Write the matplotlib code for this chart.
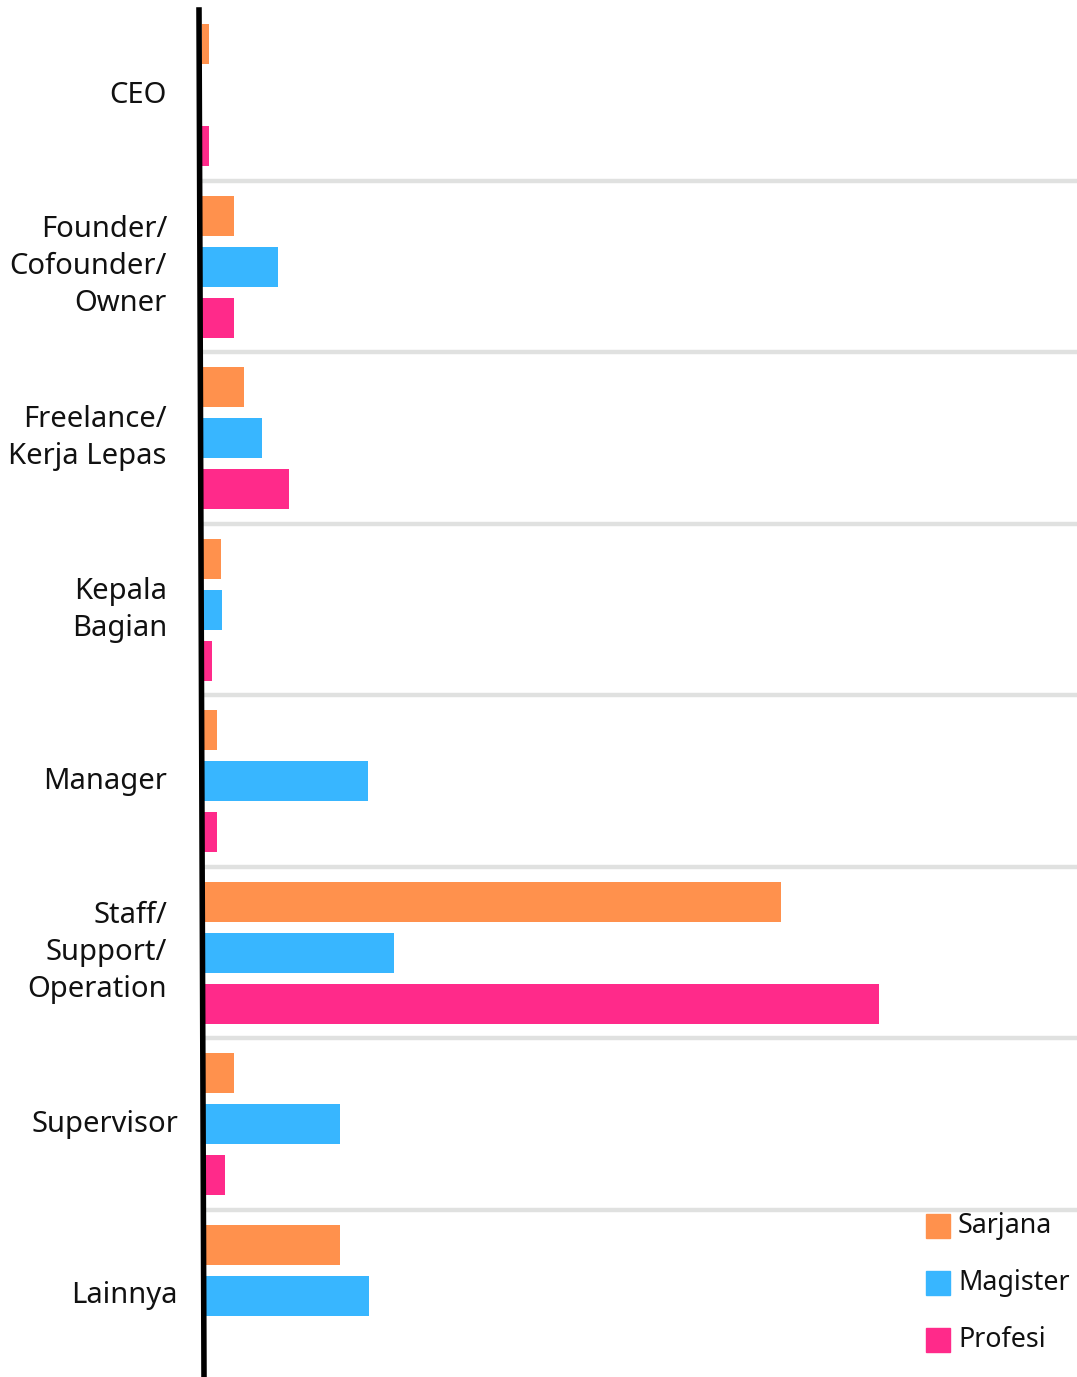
import matplotlib.pyplot as plt
import matplotlib.transforms as mtransforms
from matplotlib.patches import Rectangle
from matplotlib.lines import Line2D
import numpy as np

plt.rcParams['font.family'] = ['Noto Sans', 'DejaVu Sans']

# jabatan responden per jenjang pendidikan
categories = ["CEO", "Founder/\nCofounder/\nOwner", "Freelance/\nKerja Lepas",
              "Kepala\nBagian", "Manager", "Staff/\nSupport/\nOperation",
              "Supervisor", "Lainnya"]
series = ["Sarjana", "Magister", "Profesi"]
sarjana = [1.0, 4.7, 6.2, 2.8, 2.2, 85.5, 4.7, 20.4]
magister = [0.0, 11.2, 8.9, 3.0, 24.5, 28.4, 20.4, 24.7]
profesi = [1.0, 4.7, 12.9, 1.5, 2.2, 100.0, 3.4, 0.0]
colors = ["#FF914D", "#38B6FF", "#FF2A8A"]

W, H = 1077, 1377
fig = plt.figure(figsize=(W / 100, H / 100), dpi=100)
ax = fig.add_axes([202 / W, 0, 1 - 202 / W, 1])

y = np.arange(len(categories))
offset = 0.297
bar_h = 0.233
for k, (vals, col) in enumerate(zip([sarjana, magister, profesi], colors)):
    ax.barh(y + (k - 1) * offset, vals, height=bar_h, color=col, zorder=2)

# garis pemisah antar kelompok
for sep in y[:-1] + 0.5:
    ax.axhline(sep, color="#e0e1e0", lw=3.2, zorder=1)

ax.set_xlim(0, 129.2)
ax.set_ylim(7.474, -0.555)
ax.axis("off")

# label kategori di sisi kiri
label_x = [167, 167, 167, 167, 167, 167, 178, 178]
trans = mtransforms.blended_transform_factory(fig.transFigure, ax.transData)
for yi, lab, lx in zip(y, categories, label_x):
    ax.text(lx / W, yi, lab, transform=trans, ha="right", va="center",
            fontsize=21, color="#111111", linespacing=1.36)

# sumbu vertikal hitam
fig.add_artist(Line2D([199 / W, 204 / W], [1 - 10 / H, 0], color="black",
                      lw=4, transform=fig.transFigure, zorder=5))

# legenda
for k, (name, col) in enumerate(zip(series, colors)):
    yc = 1226 + 57 * k
    fig.add_artist(Rectangle((926 / W, 1 - (yc + 12) / H), 24 / W, 24 / H,
                             color=col, transform=fig.transFigure))
    fig.text(958 / W, 1 - yc / H, name, ha="left", va="center",
             fontsize=19.3, color="#111111")

fig.savefig("out.png", dpi=100)
